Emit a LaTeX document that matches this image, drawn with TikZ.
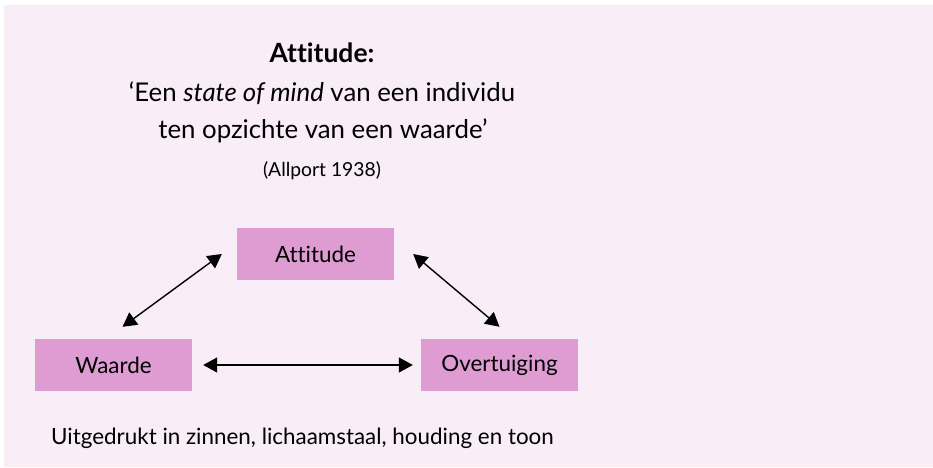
\documentclass[tikz,border=0pt]{standalone}
\usepackage{fontspec}
\setmainfont{Lato}[Ligatures=NoCommon]
\usetikzlibrary{arrows.meta}
\definecolor{paneel}{RGB}{249,237,247}
\definecolor{vak}{RGB}{222,156,211}
\tikzset{
  begrip/.style={fill=vak, minimum width=157pt, minimum height=52pt, inner sep=0pt,
    font=\fontsize{22.4}{26}\selectfont},
  pijl/.style={{Triangle[length=14pt,width=15pt]}-{Triangle[length=14pt,width=15pt]},
    line width=1.4pt},
  tekst/.style={anchor=base, inner sep=0pt}
}

\begin{document}
\begin{tikzpicture}[x=1pt,y=-1pt]
  \useasboundingbox (0,0) rectangle (933,467);
  % achtergrond
  \fill[paneel] (4,5) rectangle (933,467);

  % definitie bovenaan
  \node[tekst, font=\fontsize{26.5}{31}\selectfont\bfseries] (titel) at (322,62) {Attitude:};
  \node[tekst, font=\fontsize{25.8}{31}\selectfont] (citaatA) at (322,101)
    {`Een \textit{state of mind} van een individu};
  \node[tekst, font=\fontsize{25.8}{31}\selectfont] (citaatB) at (323,138)
    {ten opzichte van een waarde'};
  \node[tekst, font=\fontsize{19.3}{23}\selectfont] (bron) at (322,176) {(Allport 1938)};

  % de drie begrippen
  \node[begrip] (attitude) at (315.5,254) {Attitude};
  \node[begrip] (waarde) at (113.5,365) {Waarde};
  \node[begrip] (overtuiging) at (499.5,365) {Overtuiging};

  % verbindingen
  \draw[pijl] ([xshift=9pt,yshift=12pt]waarde.north) -- ([xshift=-15pt]attitude.west);
  \draw[pijl] ([xshift=19pt]attitude.east) -- ([yshift=12pt]overtuiging.north);
  \draw[pijl] ([xshift=11pt]waarde.east) -- ([xshift=-8pt]overtuiging.west);

  % onderschrift
  \node[tekst, anchor=base west, font=\fontsize{22.4}{26}\selectfont] (uiting) at (51,444)
    {Uitgedrukt in zinnen, lichaamstaal, houding en toon};
\end{tikzpicture}
\end{document}
